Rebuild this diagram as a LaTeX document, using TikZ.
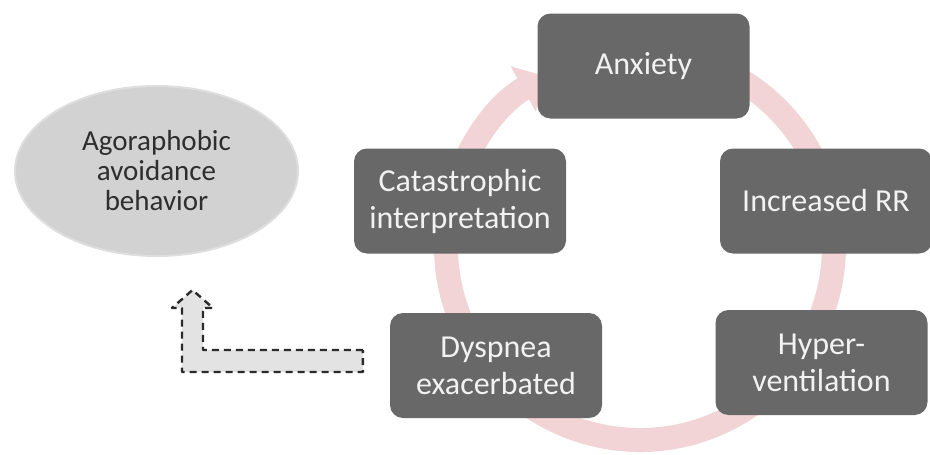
\documentclass[tikz,border=0pt]{standalone}
\usepackage{fontspec}
\setmainfont{Carlito}
\usetikzlibrary{arrows.meta,shapes.geometric,calc}
\definecolor{boxgray}{HTML}{686868}
\definecolor{boxtext}{HTML}{F2F2F2}
\definecolor{ringpink}{HTML}{F2D4D6}
\definecolor{ellfill}{HTML}{D2D2D2}
\definecolor{ellline}{HTML}{DEDEDE}
\definecolor{ellipsetext}{HTML}{2E2E2E}
\definecolor{dashfill}{HTML}{E3E3E3}
\definecolor{dashline}{HTML}{2A2A2A}
\begin{document}
\begin{tikzpicture}[x=1pt,y=1pt,
  box/.style={draw=none, fill=boxgray, rounded corners=13pt, minimum width=212pt,
    minimum height=105pt, text=boxtext, font=\fontsize{32}{37}\selectfont,
    align=center, inner sep=0pt},
  ovalnode/.style={ellipse, fill=ellfill, draw=ellline, line width=2pt,
    minimum width=283pt, minimum height=170pt, text=ellipsetext,
    font=\fontsize{29}{30}\selectfont, align=center, inner sep=0pt},
  ring/.style={draw=ringpink, line width=24pt,
    -{Triangle[width=50pt,length=26pt]}},
  dasharrow/.style={draw=dashline, fill=dashfill, line width=2.4pt,
    dash pattern=on 7pt off 5pt, line join=round}
]
\useasboundingbox (0,0) rectangle (930,-455);
\fill[white] (0,0) rectangle (930,-455);

% cycle ring behind the boxes
\coordinate (ctr) at (640,-246);
\draw[ring] (ctr) ++(80:194) arc[start angle=80, end angle=-241, radius=194];

% boxes
\node[box] (anx) at (643.5,-66) {Anxiety};
\node[box] (rr) at (826,-201) {Increased RR};
\node[box] (hyp) at (821.5,-362.5) {Hyper-\\ventilation};
\node[box] (dys) at (496,-365.5) {Dyspnea\\exacerbated};
\node[box] (cat) at (460,-201) {Catastrophic\\interpretation};

% ellipse
\node[ovalnode] (ago) at (156.5,-171) {Agoraphobic\\avoidance\\behavior};

% dashed L-shaped block arrow from dyspnea towards the ellipse
\coordinate (s1) at ($(dys.west)+(-27,15.5)$);
\coordinate (s2) at ($(dys.west)+(-27,-6.5)$);
\coordinate (tip) at ($(ago.south)+(36,-33)$);
\path[dasharrow] (s1) -- (s1 -| 203,0) -- (203,-308) -- (213,-308)
  -- (tip) -- (172,-308) -- (182,-308) -- (s2 -| 182,0) -- (s2) -- cycle;
\end{tikzpicture}
\end{document}
